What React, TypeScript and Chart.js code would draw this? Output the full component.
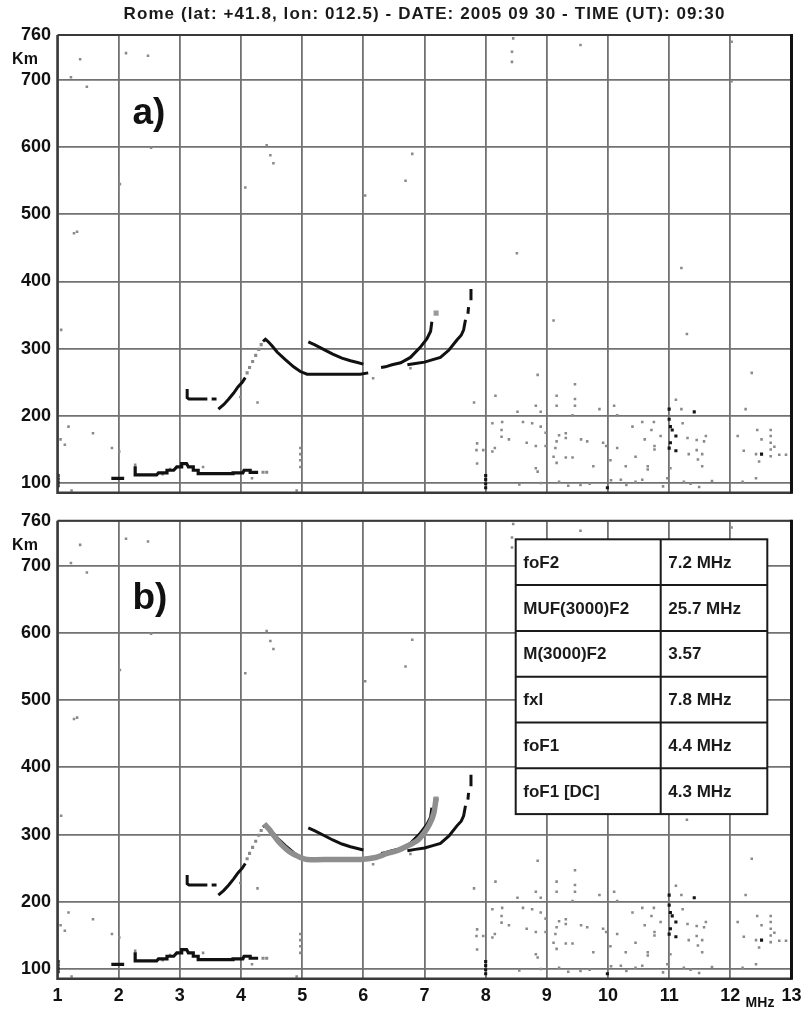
import React, { useEffect, useRef } from 'react';
import { Chart, registerables } from 'chart.js';

Chart.register(...registerables);

// ---------- text ----------
const titleText = 'Rome (lat: +41.8, lon: 012.5) - DATE: 2005 09 30 - TIME (UT): 09:30';
const panelLabels = ['a)', 'b)'];

// ---------- axes ----------
const xMin = 1;
const xMax = 13;
const xTickValues = [1, 2, 3, 4, 5, 6, 7, 8, 9, 10, 11, 12, 13];
const yMin = 85.6;
const yMax = 767;
const yTickValues = [100, 200, 300, 400, 500, 600, 700, 767];
const yTickLabels = ['100', '200', '300', '400', '500', '600', '700', '760'];

// ---------- table (panel b) ----------
const tableParams = ['foF2', 'MUF(3000)F2', 'M(3000)F2', 'fxI', 'foF1', 'foF1 [DC]'];
const tableValues = ['7.2 MHz', '25.7 MHz', '3.57', '7.8 MHz', '4.4 MHz', '4.3 MHz'];

// ---------- traces: [frequency MHz, virtual height km] ----------
const eTrace: [number, number | null][] = [
  [1.88, 107], [2.09, 107], [2.18, null], [2.27, 125], [2.27, 112], [2.62, 112], [2.65, 115],
  [2.79, 115], [2.79, 119], [2.9, 119], [2.95, 124], [3.03, 124], [3.03, 129], [3.11, 129],
  [3.14, 124], [3.22, 124], [3.22, 119], [3.3, 119], [3.3, 114], [3.87, 114], [3.87, 115],
  [4.03, 115], [4.05, 119], [4.15, 119], [4.15, 116], [4.28, 116],
];
const fLowTrace: [number, number | null][] = [
  [3.12, 240], [3.12, 227], [3.15, 225], [3.45, 225], [3.48, null], [3.52, 225], [3.6, 225],
];
const fRiseTrace: [number, number][] = [
  [3.63, 210], [3.72, 217], [3.8, 225], [3.88, 234], [3.95, 243], [4.02, 250], [4.07, 257],
];
const fRiseGray: [number, number][] = [
  [4.1, 264], [4.14, 272], [4.19, 281], [4.24, 290], [4.29, 299], [4.33, 306], [4.36, 116], [4.42, 116],
];
const oTrace: [number, number | null][] = [
  [4.36, 311], [4.4, 314], [4.45, 310], [4.51, 304], [4.59, 295], [4.72, 284], [4.86, 273],
  [4.97, 266], [5.08, 262], [5.5, 262], [5.95, 262], [6.08, 264],
];
const xModeTrace: [number, number][] = [
  [5.1, 310], [5.2, 306], [5.35, 299], [5.5, 292], [5.65, 286], [5.79, 282], [5.92, 279], [6.0, 277],
];
const rightTraceA: [number, number][] = [
  [6.29, 272], [6.36, 273], [6.47, 276], [6.61, 279], [6.77, 287], [6.93, 302], [7.04, 315],
  [7.1, 326], [7.12, 340],
];
const rightTraceB: [number, number | null][] = [
  [6.72, 276], [6.85, 278], [7.0, 280], [7.15, 284], [7.26, 287], [7.4, 298], [7.53, 313],
  [7.6, 320], [7.64, 328], [7.67, 343], [7.69, null], [7.71, 352], [7.72, 362], [7.74, null],
  [7.76, 372], [7.76, 389],
];
const graySquare: [number, number][] = [[7.19, 353]];
const profileB: [number, number][] = [
  [4.38, 316], [4.45, 309], [4.55, 297], [4.64, 287], [4.8, 274], [4.97, 266], [5.08, 263],
  [5.5, 263], [5.95, 263], [6.2, 266], [6.39, 272], [6.55, 276], [6.72, 283], [6.88, 291],
  [6.99, 302], [7.08, 315], [7.15, 331], [7.19, 355],
];

// ---------- scattered echoes ----------
const noiseUpper: [number, number][] = [
  [1.37, 731], [1.22, 704], [1.48, 690], [2.12, 740], [2.48, 736], [2.53, 599], [2.02, 545],
  [1.32, 474], [1.27, 472], [1.06, 328], [4.07, 540], [4.42, 603], [4.48, 588], [4.53, 576],
  [6.8, 590], [6.69, 550], [6.03, 528], [8.45, 762], [8.43, 742], [8.43, 727], [9.55, 752],
  [8.51, 442], [9.11, 342], [11.2, 420], [11.29, 322], [12.02, 757], [12.02, 698],
  [4.27, 220], [6.16, 256], [6.77, 271], [3.99, 228],
];
const noiseLow: [number, number][] = [
  [1.18, 184], [1.58, 174], [1.12, 157], [1.89, 152], [2.01, 147], [1.05, 165], [4.97, 152],
  [4.97, 143], [4.97, 134], [4.97, 124], [4.91, 89], [1.23, 89], [4.18, 107], [3.38, 124],
  [2.27, 127], [2.72, 113], [2.84, 121],
];
const noiseCluster: [number, number][] = [
  [7.81, 220], [8.16, 230], [8.85, 261], [9.46, 247], [9.16, 230], [9.16, 215], [9.46, 225],
  [9.46, 215], [8.52, 206], [8.82, 215], [8.9, 206], [9.42, 201], [9.86, 210], [10.1, 215],
  [10.15, 201], [11.11, 224], [11.2, 210], [12.25, 210], [12.35, 264], [8.11, 189], [8.27, 191],
  [8.26, 179], [8.26, 169], [8.38, 165], [8.61, 191], [8.76, 189], [8.9, 184], [8.98, 175],
  [8.67, 160], [8.82, 155], [8.98, 155], [8.15, 152], [8.11, 147], [7.86, 159], [7.85, 149],
  [7.96, 149], [7.86, 129], [8.82, 122], [8.85, 117], [9.2, 171], [9.31, 174], [9.31, 167],
  [9.16, 162], [9.14, 152], [9.11, 139], [9.16, 130], [9.31, 138], [9.42, 138], [9.56, 165],
  [9.66, 162], [9.92, 160], [9.97, 155], [10.15, 152], [9.76, 125], [10.04, 134], [10.29, 125],
  [10.4, 184], [10.56, 191], [10.75, 191], [10.71, 179], [10.6, 165], [10.76, 155], [10.76, 150],
  [10.45, 139], [10.65, 125], [10.65, 120], [10.86, 170], [11.02, 122], [11.22, 189], [11.3, 167],
  [11.45, 164], [11.45, 149], [11.47, 135], [11.54, 143], [11.6, 170], [11.57, 162], [11.54, 125],
  [11.32, 143], [12.12, 170], [12.22, 148], [12.44, 179], [12.51, 165], [12.42, 143], [12.47, 132],
  [12.42, 107], [12.66, 179], [12.66, 170], [12.66, 160], [12.66, 150], [12.66, 140], [12.72, 154],
  [12.8, 142], [12.91, 142], [12.2, 102], [13.0, 184], [10.21, 105], [9.2, 102], [9.55, 97],
  [10.56, 105], [10.97, 107], [11.24, 102], [11.49, 94], [8.55, 98], [8.9, 100], [9.35, 96],
  [9.7, 99], [10.05, 104], [10.3, 97], [10.45, 102], [10.9, 95], [11.35, 99], [11.7, 103],
];
const blackDots: [number, number][] = [
  [11.0, 210], [11.41, 206], [11.0, 152], [11.02, 184], [11.05, 179], [11.11, 170], [11.11, 148],
  [12.51, 143], [8.0, 93], [8.0, 99], [8.0, 105], [8.0, 111], [9.99, 93], [1.01, 96], [1.01, 101],
  [1.01, 106], [1.01, 111], [11.0, 195], [11.02, 160],
];

// ---------- helpers ----------
const toPts = (arr: [number, number | null][]) => arr.map(([x, y]) => ({ x, y }));
const FONT = "'Liberation Sans', Arial, sans-serif";

function lineDs(arr: [number, number | null][], color: string, width: number, order: number, tension = 0) {
  return {
    data: toPts(arr),
    showLine: true,
    borderColor: color,
    backgroundColor: color,
    borderWidth: width,
    pointRadius: 0,
    pointHoverRadius: 0,
    tension,
    spanGaps: false,
    order,
  };
}
function dotDs(arr: [number, number][], color: string, r: number, order: number) {
  return {
    data: toPts(arr),
    showLine: false,
    pointStyle: 'rect',
    pointRadius: r,
    pointHoverRadius: r,
    pointBorderWidth: 0,
    borderWidth: 0,
    backgroundColor: color,
    borderColor: color,
    order,
  };
}

function buildDatasets(withProfile: boolean) {
  const ds: any[] = [
    dotDs(noiseUpper, '#8a8a8a', 1.8, 20),
    dotDs(noiseLow, '#8a8a8a', 1.8, 20),
    dotDs(noiseCluster, '#8a8a8a', 1.8, 20),
    dotDs(blackDots, '#151515', 2.2, 15),
    dotDs(fRiseGray, '#8a8a8a', 2.2, 12),
    dotDs(graySquare, '#9a9a9a', 3.6, 12),
    lineDs(eTrace, '#111', 3.2, 10),
    lineDs(fLowTrace, '#111', 3, 10),
    lineDs(fRiseTrace, '#111', 3, 10),
    lineDs(oTrace, '#111', 3, 10),
    lineDs(xModeTrace, '#111', 3, 10),
    lineDs(rightTraceA, '#111', 3, 10),
    lineDs(rightTraceB, '#111', 3, 10),
  ];
  if (withProfile) ds.push(lineDs(profileB, '#8e8e8e', 5.5, 1, 0.3));
  return ds;
}

const decorPlugin = {
  id: 'decor',
  afterDatasetsDraw(chart: any, _args: any, opts: any) {
    const { ctx, chartArea } = chart;
    const { left, right, top, bottom } = chartArea;
    ctx.save();
    // frame
    ctx.strokeStyle = '#3a3a3a';
    ctx.lineWidth = 2;
    ctx.beginPath();
    ctx.moveTo(left, top);
    ctx.lineTo(right, top);
    ctx.stroke();
    ctx.lineWidth = 2.5;
    ctx.beginPath();
    ctx.moveTo(left, top);
    ctx.lineTo(left, bottom);
    ctx.lineTo(right, bottom);
    ctx.stroke();
    ctx.strokeStyle = '#111';
    ctx.lineWidth = 3;
    ctx.beginPath();
    ctx.moveTo(right, top - 1);
    ctx.lineTo(right, bottom + 1);
    ctx.stroke();

    // title
    if (opts.title) {
      ctx.fillStyle = '#1a1a1a';
      ctx.font = `bold 17px ${FONT}`;
      ctx.textAlign = 'center';
      ctx.textBaseline = 'middle';
      try {
        (ctx as any).letterSpacing = '1.1px';
      } catch (e) {
        /* ignore */
      }
      ctx.fillText(opts.title, (left + right) / 2, 14.5);
      try {
        (ctx as any).letterSpacing = '0px';
      } catch (e) {
        /* ignore */
      }
    }

    // Km
    ctx.fillStyle = '#111';
    ctx.font = `bold 16px ${FONT}`;
    ctx.textAlign = 'center';
    ctx.textBaseline = 'middle';
    ctx.fillText('Km', 25, top + 24.7);

    // panel label
    ctx.font = `bold 37px ${FONT}`;
    ctx.textAlign = 'left';
    ctx.textBaseline = 'alphabetic';
    ctx.fillText(opts.label, 132.5, top + 88.5);

    if (opts.table) {
      const L = 515.7, M = 660.7, R = 767.3;
      const T = top + 18.6;
      const rh = 45.8;
      const n = tableParams.length;
      ctx.fillStyle = '#fff';
      ctx.fillRect(L, T, R - L, rh * n);
      ctx.strokeStyle = '#1a1a1a';
      ctx.lineWidth = 2;
      ctx.strokeRect(L, T, R - L, rh * n);
      ctx.beginPath();
      ctx.moveTo(M, T);
      ctx.lineTo(M, T + rh * n);
      for (let i = 1; i < n; i++) {
        ctx.moveTo(L, T + rh * i);
        ctx.lineTo(R, T + rh * i);
      }
      ctx.stroke();
      ctx.fillStyle = '#1a1a1a';
      ctx.font = `bold 17px ${FONT}`;
      ctx.textBaseline = 'middle';
      ctx.textAlign = 'left';
      for (let i = 0; i < n; i++) {
        const cy = T + rh * i + rh / 2 + 1;
        ctx.fillText(tableParams[i], L + 7.6, cy);
        ctx.fillText(tableValues[i], M + 7.6, cy);
      }
    }
    if (opts.mhz) {
      ctx.fillStyle = '#111';
      ctx.font = `bold 14px ${FONT}`;
      ctx.textAlign = 'center';
      ctx.textBaseline = 'middle';
      ctx.fillText('MHz', 760, bottom + 24.5);
    }
    ctx.restore();
  },
};

function makeOptions(panel: 'a' | 'b') {
  const isA = panel === 'a';
  return {
    responsive: false,
    animation: false as const,
    events: [],
    layout: {
      padding: isA
        ? { left: 0, right: 11.5, top: 35, bottom: 12.3 }
        : { left: 0, right: 11.5, top: 15.7, bottom: 0 },
    },
    plugins: {
      legend: { display: false },
      tooltip: { enabled: false },
      title: { display: false },
      decor: {
        label: isA ? panelLabels[0] : panelLabels[1],
        table: !isA,
        mhz: !isA,
        title: isA ? titleText : '',
      },
    },
    scales: {
      x: {
        type: 'linear' as const,
        min: xMin,
        max: xMax,
        afterBuildTicks: (s: any) => {
          s.ticks = xTickValues.map((v) => ({ value: v }));
        },
        afterFit: (s: any) => {
          s.height = isA ? 0 : 30.3;
          s.paddingLeft = 0;
          s.paddingRight = 0;
        },
        ticks: {
          display: !isA,
          autoSkip: false,
          maxRotation: 0,
          padding: 6.5,
          color: '#111',
          font: { family: FONT, size: 18, weight: 'bold' as const },
          callback: (v: any) => String(v),
        },
        grid: { color: '#727272', lineWidth: 1.8, drawTicks: false },
        border: { display: false },
      },
      y: {
        type: 'linear' as const,
        min: yMin,
        max: yMax,
        afterBuildTicks: (s: any) => {
          s.ticks = yTickValues.map((v) => ({ value: v }));
        },
        afterFit: (s: any) => {
          s.width = 57.5;
          s.paddingTop = 0;
          s.paddingBottom = 0;
        },
        ticks: {
          autoSkip: false,
          padding: 6.5,
          color: '#111',
          font: { family: FONT, size: 18, weight: 'bold' as const },
          callback: (_v: any, i: number) => yTickLabels[i],
        },
        grid: { color: '#727272', lineWidth: 1.8, drawTicks: false },
        border: { display: false },
      },
    },
  };
}

export default function App() {
  const refA = useRef<HTMLCanvasElement | null>(null);
  const refB = useRef<HTMLCanvasElement | null>(null);

  useEffect(() => {
    const charts: Chart[] = [];
    if (refA.current) {
      charts.push(
        new Chart(refA.current, {
          type: 'scatter',
          data: { datasets: buildDatasets(false) },
          options: makeOptions('a') as any,
          plugins: [decorPlugin],
        })
      );
    }
    if (refB.current) {
      charts.push(
        new Chart(refB.current, {
          type: 'scatter',
          data: { datasets: buildDatasets(true) },
          options: makeOptions('b') as any,
          plugins: [decorPlugin],
        })
      );
    }
    return () => charts.forEach((c) => c.destroy());
  }, []);

  return (
    <div style={{ position: 'absolute', left: 0, top: 0, width: 803, height: 1009, background: '#fff', overflow: 'hidden' }}>
      <canvas ref={refA} width={803} height={505} style={{ position: 'absolute', left: 0, top: 0, width: 803, height: 505 }} />
      <canvas ref={refB} width={803} height={504} style={{ position: 'absolute', left: 0, top: 505, width: 803, height: 504 }} />
    </div>
  );
}
